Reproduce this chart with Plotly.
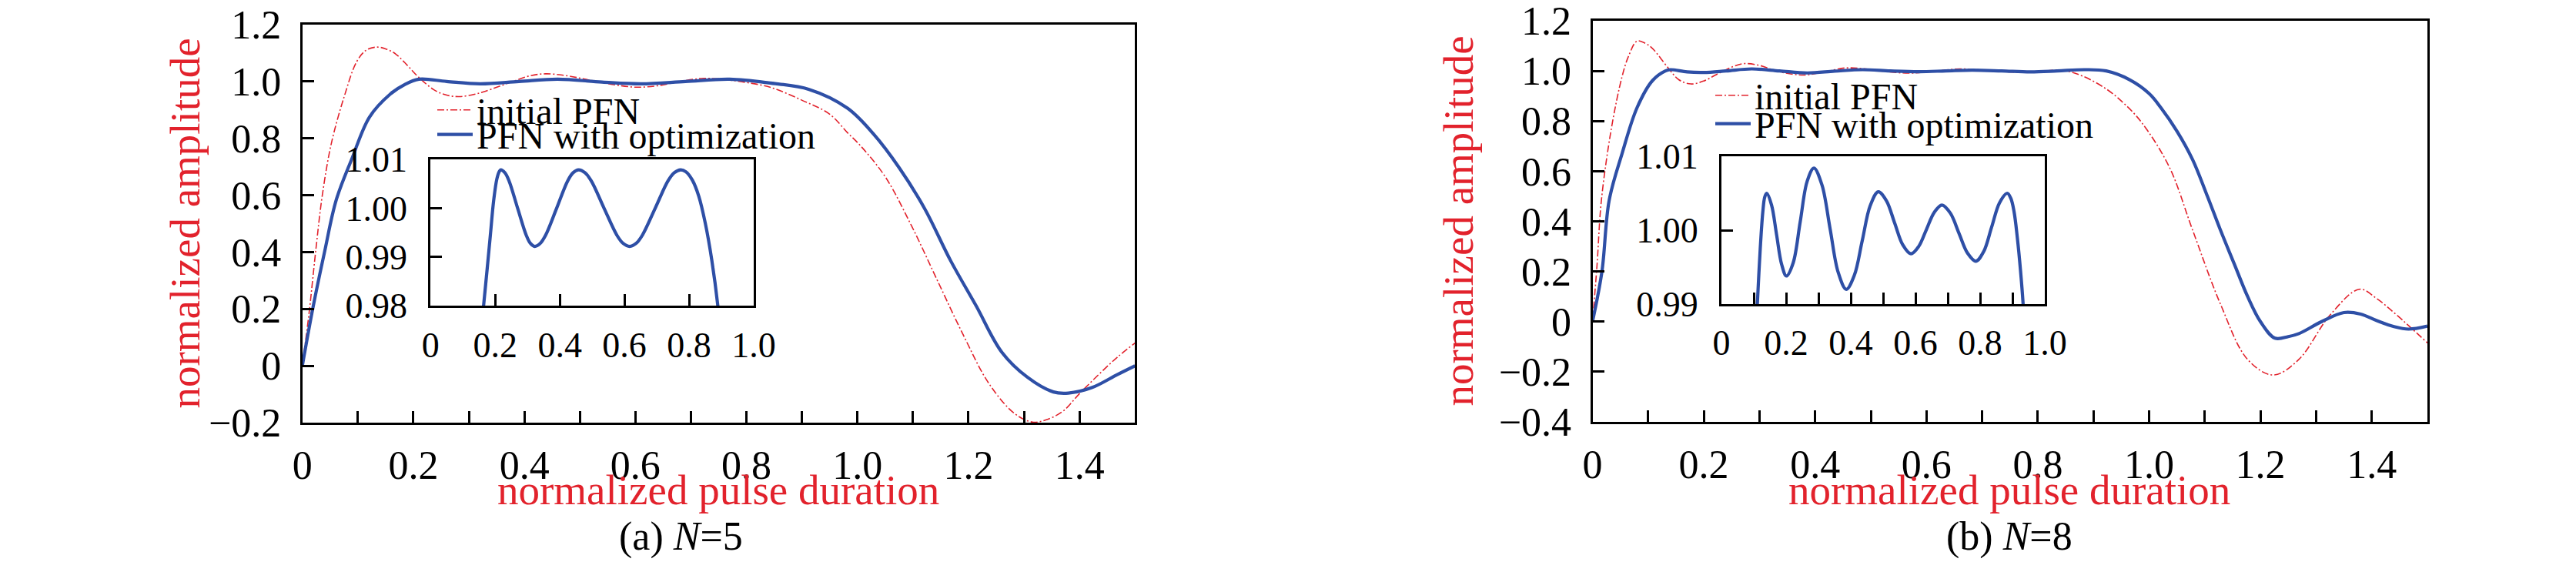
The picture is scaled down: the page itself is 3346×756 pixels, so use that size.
import plotly.graph_objects as go

# ---------------- data ----------------
# (a) N=5 : main panel
a_init_x = [0, 0.006, 0.013, 0.025, 0.036, 0.052, 0.075, 0.098, 0.115, 0.133, 0.15, 0.168, 0.19, 0.209,
            0.237, 0.26, 0.283, 0.31, 0.33, 0.376, 0.41, 0.438, 0.47, 0.50, 0.53, 0.561, 0.60, 0.64, 0.68,
            0.722, 0.76, 0.792, 0.844, 0.899, 0.95, 0.982, 1.005, 1.05, 1.098, 1.144, 1.191, 1.237, 1.283,
            1.315, 1.34, 1.37, 1.399, 1.435, 1.468, 1.5]
a_init_y = [0, 0.09, 0.2, 0.42, 0.60, 0.78, 0.944, 1.07, 1.11, 1.121, 1.115, 1.097, 1.055, 1.016,
            0.971, 0.952, 0.947, 0.955, 0.966, 0.998, 1.02, 1.027, 1.022, 1.012, 1.0, 0.989, 0.98, 0.985, 1.0,
            1.011, 1.007, 0.999, 0.979, 0.935, 0.885, 0.82, 0.775, 0.665, 0.49, 0.30, 0.107, -0.063, -0.168,
            -0.198, -0.19, -0.16, -0.10, -0.03, 0.03, 0.08]

a_opt_x = [0, 0.019, 0.04, 0.061, 0.089, 0.121, 0.158, 0.185, 0.21, 0.26, 0.32, 0.39, 0.46, 0.54, 0.61,
           0.69, 0.77, 0.84, 0.913, 0.982, 1.029, 1.075, 1.121, 1.168, 1.214, 1.26, 1.306, 1.353, 1.38,
           1.422, 1.468, 1.5]
a_opt_y = [0, 0.203, 0.40, 0.583, 0.727, 0.875, 0.955, 0.99, 1.008, 1.0, 0.992, 1.0, 1.008, 0.998, 0.992,
           1.0, 1.008, 0.995, 0.972, 0.906, 0.815, 0.697, 0.553, 0.369, 0.21, 0.048, -0.04, -0.092, -0.096,
           -0.077, -0.031, 0.0]

# (a) N=5 : inset (PFN with optimization, zoomed)
a_ins_x = [0.160, 0.164, 0.175, 0.185, 0.195, 0.205, 0.212, 0.217, 0.230, 0.243, 0.2695, 0.296, 0.309, 0.322,
           0.339, 0.356, 0.390, 0.424, 0.441, 0.458, 0.478, 0.4975, 0.537, 0.5765, 0.596, 0.616, 0.636,
           0.6555, 0.695, 0.7345, 0.754, 0.774, 0.79, 0.81, 0.83, 0.85, 0.87, 0.889, 0.893]
a_ins_y = [0.977, 0.980, 0.9875, 0.9945, 1.0015, 1.0060, 1.0075, 1.0079, 1.0073, 1.0056, 1.0000, 0.9945, 0.9928,
           0.9922, 0.9928, 0.9945, 1.0000, 1.0056, 1.0073, 1.0079, 1.0073, 1.0056, 1.0000, 0.9945, 0.9928,
           0.9922, 0.9928, 0.9945, 1.0000, 1.0056, 1.0073, 1.0079, 1.0075, 1.0058, 1.0025, 0.9970, 0.9895,
           0.980, 0.977]

# (b) N=8 : main panel
b_init_x = [0, 0.008, 0.016, 0.034, 0.053, 0.065, 0.080, 0.095, 0.108, 0.136, 0.155, 0.177, 0.2, 0.223,
            0.25, 0.272, 0.30, 0.33, 0.36, 0.385, 0.42, 0.456, 0.49, 0.53, 0.569, 0.61, 0.66, 0.71, 0.76,
            0.80, 0.845, 0.88, 0.923, 0.955, 0.986, 1.036, 1.078, 1.128, 1.177, 1.223, 1.269, 1.325, 1.378,
            1.41, 1.445, 1.5]
b_init_y = [0, 0.22, 0.484, 0.771, 0.976, 1.06, 1.119, 1.11, 1.089, 1.012, 0.965, 0.948, 0.96, 0.986,
            1.015, 1.029, 1.022, 1.0, 0.987, 0.984, 0.998, 1.012, 1.008, 0.997, 0.991, 0.998, 1.008, 1.002,
            0.995, 0.998, 1.002, 0.98, 0.928, 0.87, 0.796, 0.618, 0.366, 0.071, -0.151, -0.213, -0.151,
            0.026, 0.129, 0.09, 0.026, -0.085]

b_opt_x = [0, 0.017, 0.03, 0.053, 0.08, 0.108, 0.131, 0.14, 0.17, 0.2, 0.24, 0.286, 0.336, 0.386, 0.435,
           0.485, 0.535, 0.586, 0.635, 0.682, 0.735, 0.787, 0.835, 0.884, 0.923, 0.965, 1.0, 1.021, 1.05,
           1.078, 1.103, 1.128, 1.153, 1.177, 1.2, 1.226, 1.25, 1.269, 1.31, 1.35, 1.38, 1.41, 1.44, 1.466,
           1.5]
b_opt_y = [0, 0.20, 0.484, 0.669, 0.853, 0.962, 1.0, 1.005, 0.996, 0.994, 1.0, 1.008, 1.0, 0.992, 0.999,
           1.005, 1.0, 0.997, 1.0, 1.003, 1.0, 0.996, 1.0, 1.005, 1.0, 0.965, 0.91, 0.854, 0.76,
           0.647, 0.51, 0.366, 0.23, 0.10, 0.0, -0.066, -0.06, -0.048, 0.0, 0.036, 0.03, 0.003, -0.02, -0.030,
           -0.018]

# (b) N=8 : inset
b_ins_x = [0.108, 0.111, 0.120, 0.128, 0.134, 0.140, 0.155, 0.1705, 0.186, 0.201, 0.222, 0.2435, 0.265,
           0.286, 0.311, 0.336, 0.361, 0.386, 0.411, 0.4355, 0.46, 0.485, 0.51, 0.5355, 0.561, 0.586, 0.61,
           0.634, 0.658, 0.682, 0.708, 0.7345, 0.761, 0.787, 0.811, 0.8355, 0.86, 0.884, 0.895, 0.905,
           0.915, 0.925, 0.933, 0.936]
b_ins_y = [0.9875, 0.990, 0.9975, 1.0025, 1.0045, 1.0050, 1.0034, 0.9994, 0.9954, 0.9938, 0.9956, 1.0011,
           1.0066, 1.0084, 1.0061, 1.0002, 0.9943, 0.9920, 0.9939, 0.9986, 1.0033, 1.0052, 1.0040, 1.0010,
           0.9980, 0.9968, 0.9978, 1.0001, 1.0024, 1.0034, 1.0023, 0.9996, 0.9969, 0.9958, 0.9971, 1.0004,
           1.0037, 1.0050, 1.0043, 1.0025, 0.9990, 0.9945, 0.9900, 0.9875]

# tick labels
main_x_ticks = [0, 0.1, 0.2, 0.3, 0.4, 0.5, 0.6, 0.7, 0.8, 0.9, 1.0, 1.1, 1.2, 1.3, 1.4]
main_x_text = ["0", "", "0.2", "", "0.4", "", "0.6", "", "0.8", "", "1.0", "", "1.2", "", "1.4"]
a_y_ticks = [-0.2, 0, 0.2, 0.4, 0.6, 0.8, 1.0, 1.2]
a_y_text = ["\u22120.2", "0", "0.2", "0.4", "0.6", "0.8", "1.0", "1.2"]
b_y_ticks = [-0.4, -0.2, 0, 0.2, 0.4, 0.6, 0.8, 1.0, 1.2]
b_y_text = ["\u22120.4", "\u22120.2", "0", "0.2", "0.4", "0.6", "0.8", "1.0", "1.2"]
a_ins_xt = [0, 0.2, 0.4, 0.6, 0.8, 1.0]
a_ins_xtext = ["0", "0.2", "0.4", "0.6", "0.8", "1.0"]
b_ins_xt = [0, 0.1, 0.2, 0.3, 0.4, 0.5, 0.6, 0.7, 0.8, 0.9, 1.0]
b_ins_xtext = ["0", "", "0.2", "", "0.4", "", "0.6", "", "0.8", "", "1.0"]
a_ins_yt = [0.98, 0.99, 1.00, 1.01]
a_ins_ytext = ["0.98", "0.99", "1.00", "1.01"]
b_ins_yt = [0.99, 1.00, 1.01]
b_ins_ytext = ["0.99", "1.00", "1.01"]

# ---------------- style ----------------
W, H = 3346, 756
FONT = "Liberation Serif, Times New Roman, serif"
RED = "#e2222c"
BLUE = "#2e4fa6"
RED_LINE = dict(color=RED, width=1.6, dash="9px,3px,2px,3px")
BLUE_LINE = dict(color=BLUE, width=4.2)


def px_x(p):
    return p / W


def px_y(p):
    return 1 - p / H


fig = go.Figure()

# (a) main
fig.add_trace(go.Scatter(x=a_init_x, y=a_init_y, mode="lines", line=RED_LINE, line_shape="spline",
                         name="initial PFN", xaxis="x", yaxis="y", legend="legend"))
fig.add_trace(go.Scatter(x=a_opt_x, y=a_opt_y, mode="lines", line=BLUE_LINE, line_shape="spline",
                         name="PFN with optimization", xaxis="x", yaxis="y", legend="legend2"))
# (a) inset
fig.add_trace(go.Scatter(x=a_ins_x, y=a_ins_y, mode="lines", line=BLUE_LINE, line_shape="spline",
                         showlegend=False, xaxis="x2", yaxis="y2"))
# (b) main
fig.add_trace(go.Scatter(x=b_init_x, y=b_init_y, mode="lines", line=RED_LINE, line_shape="spline",
                         name="initial PFN", xaxis="x3", yaxis="y3", legend="legend3"))
fig.add_trace(go.Scatter(x=b_opt_x, y=b_opt_y, mode="lines", line=BLUE_LINE, line_shape="spline",
                         name="PFN with optimization", xaxis="x3", yaxis="y3", legend="legend4"))
# (b) inset
fig.add_trace(go.Scatter(x=b_ins_x, y=b_ins_y, mode="lines", line=BLUE_LINE, line_shape="spline",
                         showlegend=False, xaxis="x4", yaxis="y4"))

axis_common = dict(showline=True, linewidth=3, linecolor="black", mirror=True, showgrid=False,
                   zeroline=False, ticks="inside", ticklen=15, tickwidth=3, tickcolor="black",
                   automargin=False, ticklabeloverflow="allow")

main_tickfont = dict(family=FONT, size=52, color="black")
ins_tickfont = dict(family=FONT, size=46, color="black")

fig.update_layout(
    template="none",
    width=W, height=H,
    margin=dict(l=0, r=0, t=0, b=0, autoexpand=False),
    paper_bgcolor="white", plot_bgcolor="rgba(0,0,0,0)",
    showlegend=True,
    xaxis=dict(domain=[px_x(392.7), px_x(1474.3)], range=[0, 1.5], tickvals=main_x_ticks,
               ticktext=main_x_text, tickfont=main_tickfont, anchor="y", ticklabelstandoff=8, **axis_common),
    yaxis=dict(domain=[px_y(549), px_y(32)], range=[-0.2, 1.2], tickvals=a_y_ticks, ticktext=a_y_text,
               tickfont=main_tickfont, anchor="x", ticklabelstandoff=14, **axis_common),
    xaxis2=dict(domain=[px_x(559.3), px_x(979)], range=[0, 1.0], tickvals=a_ins_xt, ticktext=a_ins_xtext,
                tickfont=ins_tickfont, anchor="y2", ticklabelstandoff=8, **axis_common),
    yaxis2=dict(domain=[px_y(397.3), px_y(207.3)], range=[0.98, 1.01], tickvals=a_ins_yt,
                ticktext=a_ins_ytext, tickfont=ins_tickfont, anchor="x2", ticklabelstandoff=18,
                **axis_common),
    xaxis3=dict(domain=[px_x(2068.5), px_x(3153)], range=[0, 1.5], tickvals=main_x_ticks,
                ticktext=main_x_text, tickfont=main_tickfont, anchor="y3", ticklabelstandoff=8,
                **axis_common),
    yaxis3=dict(domain=[px_y(548), px_y(27)], range=[-0.4, 1.2], tickvals=b_y_ticks, ticktext=b_y_text,
                tickfont=main_tickfont, anchor="x3", ticklabelstandoff=14, **axis_common),
    xaxis4=dict(domain=[px_x(2236), px_x(2656)], range=[0, 1.0], tickvals=b_ins_xt, ticktext=b_ins_xtext,
                tickfont=ins_tickfont, anchor="y4", ticklabelstandoff=8, **axis_common),
    yaxis4=dict(domain=[px_y(395), px_y(203)], range=[0.99, 1.01], tickvals=b_ins_yt,
                ticktext=b_ins_ytext, tickfont=ins_tickfont, anchor="x4", ticklabelstandoff=18,
                **axis_common),
)

leg_common = dict(bgcolor="rgba(0,0,0,0)", borderwidth=0, xanchor="left", yanchor="middle",
                  font=dict(family=FONT, size=48, color="black"), itemwidth=46, tracegroupgap=0)
fig.update_layout(
    legend=dict(x=px_x(563), y=px_y(143), **leg_common),
    legend2=dict(x=px_x(563), y=px_y(175), **leg_common),
    legend3=dict(x=px_x(2223), y=px_y(124), **leg_common),
    legend4=dict(x=px_x(2223), y=px_y(161), **leg_common),
)

title_font = dict(family=FONT, size=55, color=RED)
cap_font = dict(family=FONT, size=52, color="black")
fig.add_annotation(text="normalized amplitude", x=px_x(240), y=px_y(290.5), xref="paper", yref="paper",
                   textangle=-90, showarrow=False, font=title_font, xanchor="center", yanchor="middle")
fig.add_annotation(text="normalized amplitude", x=px_x(1894), y=px_y(287.5), xref="paper", yref="paper",
                   textangle=-90, showarrow=False, font=title_font, xanchor="center", yanchor="middle")
fig.add_annotation(text="normalized pulse duration", x=px_x(932.5), y=px_y(636), xref="paper",
                   yref="paper", showarrow=False, font=title_font, xanchor="center", yanchor="middle")
fig.add_annotation(text="normalized pulse duration", x=px_x(2609.5), y=px_y(636), xref="paper",
                   yref="paper", showarrow=False, font=title_font, xanchor="center", yanchor="middle")
fig.add_annotation(text="(a) <i>N</i>=5", x=px_x(885), y=px_y(697), xref="paper", yref="paper",
                   showarrow=False, font=cap_font, xanchor="center", yanchor="middle")
fig.add_annotation(text="(b) <i>N</i>=8", x=px_x(2609.5), y=px_y(697), xref="paper", yref="paper",
                   showarrow=False, font=cap_font, xanchor="center", yanchor="middle")

fig.write_html("out.html", config={"displayModeBar": False},
               post_script="document.body.style.margin='0px';")
